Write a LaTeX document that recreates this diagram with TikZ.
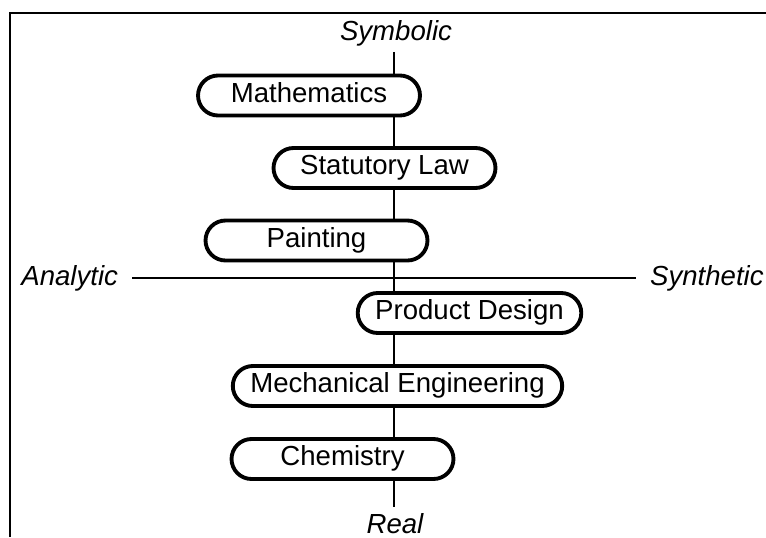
\documentclass[tikz,border=0pt]{standalone}
\usepackage{fontspec}
\setsansfont{Liberation Sans}

\tikzset{
  discipline/.style={draw,line width=2.2pt,fill=white,rounded corners=0.4cm,
    minimum width=4.44cm,minimum height=0.8cm,inner xsep=0.35cm,
    text height=11.2pt,text depth=3.3pt,font=\sffamily\fontsize{15.7}{18}\selectfont},
  pole/.style={font=\sffamily\itshape\fontsize{15.7}{18}\selectfont,inner sep=0pt},
  axis/.style={line width=0.75pt}
}

\begin{document}
\begin{tikzpicture}[x=0.02cm,y=-0.02cm]
\useasboundingbox (0,0) rectangle (766,537);
\draw[line width=1.1pt] (10,537) -- (10,13) -- (766,13);
% ends of the axes
\coordinate (top) at (394,52);
\coordinate (bot) at (394,507);
\coordinate (left) at (132,278);
\coordinate (right) at (636,278);
\node[pole,anchor=base] (sym) at (396,41) {Symbolic};
\node[pole,anchor=base] (real) at (395,533) {Real};
\node[pole,anchor=west] (ana) at (21,278) {Analytic};
\node[pole,anchor=east] (syn) at (764,278) {Synthetic};
% disciplines
\node[discipline] (math) at (309,95.5) {Mathematics};
\node[discipline] (law) at (384.5,168) {Statutory Law};
\node[discipline] (paint) at (316.5,240.5) {Painting};
\node[discipline] (prod) at (469.5,313) {Product Design};
\node[discipline] (mech) at (397.5,386) {Mechanical Engineering};
\node[discipline] (chem) at (342.5,459) {Chemistry};
\draw[axis] (top) -- (math.north -| top);
\foreach \a/\b in {math/law,law/paint,paint/prod,prod/mech,mech/chem}
  \draw[axis] (\a.south -| top) -- (\b.north -| top);
\draw[axis] (chem.south -| top) -- (bot);
\draw[axis] (left) -- (right);
\end{tikzpicture}
\end{document}
